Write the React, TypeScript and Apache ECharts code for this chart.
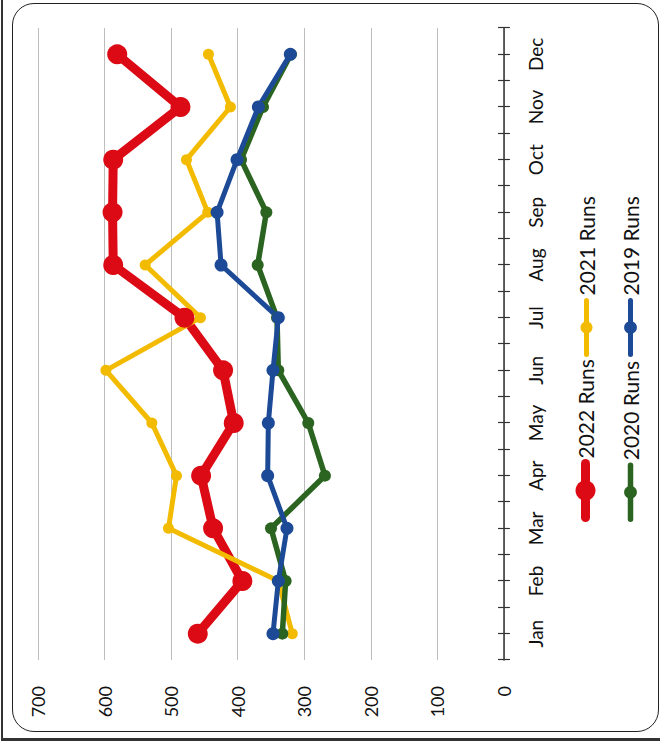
import React, { useEffect, useRef } from "react";
import * as echarts from "echarts";

const months = ["Jan", "Feb", "Mar", "Apr", "May", "Jun", "Jul", "Aug", "Sep", "Oct", "Nov", "Dec"];
const runs2022 = [460, 393, 437, 455, 406, 422, 480, 587, 588, 587, 486, 581];
const runs2021 = [318, 339, 504, 492, 529, 598, 456, 539, 445, 477, 411, 444];
const runs2020 = [333, 328, 350, 269, 294, 339, 341, 370, 357, 395, 362, 320];
const runs2019 = [347, 339, 326, 355, 354, 347, 339, 425, 431, 401, 369, 321];
const valueMin = 0;
const valueMax = 700;
const valueStep = 100;

const FONT = "Lato, 'Noto Sans', sans-serif";
const RED = "#dc0a14";
const YELLOW = "#f3bb00";
const GREEN = "#2a6420";
const BLUE = "#1c4a96";

export default function App() {
  const ref = useRef<HTMLDivElement>(null);
  useEffect(() => {
    if (!ref.current) return;
    const chart = echarts.init(ref.current, null, { renderer: "svg" });
    const legendText = { fontFamily: FONT, fontSize: 21, color: "#111" };
    const tickAxis = (inside: boolean) => ({
      type: "value",
      position: "bottom",
      min: 0,
      max: months.length * 2,
      interval: 1,
      axisLine: { show: false },
      axisLabel: { show: false },
      splitLine: { show: false },
      axisTick: { show: true, inside, length: 6, lineStyle: { color: "#333", width: 1.2 } },
    });
    const ls = (w: number) => ({ width: w, cap: "round", join: "round" });
    chart.setOption({
      animation: false,
      backgroundColor: "transparent",
      grid: { left: 84, right: 28, top: 38, bottom: 156, containLabel: false },
      legend: [
        { data: ["2022 Runs"], left: 217, top: 570, itemWidth: 54, itemHeight: 25, itemGap: 0, textStyle: legendText, lineStyle: ls(9) },
        { data: ["2021 Runs"], left: 382, top: 571, itemWidth: 54, itemHeight: 15, itemGap: 0, textStyle: legendText, lineStyle: ls(5) },
        { data: ["2020 Runs"], left: 217, top: 615, itemWidth: 54, itemHeight: 16, itemGap: 0, textStyle: legendText, lineStyle: ls(5.5) },
        { data: ["2019 Runs"], left: 382, top: 615, itemWidth: 54, itemHeight: 16, itemGap: 0, textStyle: legendText, lineStyle: ls(5) },
      ],
      xAxis: [
        {
          type: "category",
          data: months,
          boundaryGap: true,
          axisLine: { show: true, lineStyle: { color: "#333", width: 1.5 } },
          axisTick: { show: false },
          axisLabel: { margin: 22, fontFamily: FONT, fontSize: 19, color: "#111" },
          splitLine: { show: false },
        },
        tickAxis(true),
        tickAxis(false),
      ],
      yAxis: {
        type: "value",
        min: valueMin,
        max: valueMax,
        interval: valueStep,
        axisLine: { show: false },
        axisTick: { show: false },
        axisLabel: { margin: 26, fontFamily: FONT, fontSize: 18, color: "#111" },
        splitLine: { show: true, lineStyle: { color: "#bdbdbd", width: 1 } },
      },
      series: [
        {
          name: "2022 Runs",
          type: "line",
          data: runs2022,
          symbol: "circle",
          symbolSize: 20,
          lineStyle: { color: RED, ...ls(9) },
          itemStyle: { color: RED },
        },
        {
          name: "2021 Runs",
          type: "line",
          data: runs2021,
          symbol: "circle",
          symbolSize: 11,
          lineStyle: { color: YELLOW, ...ls(5) },
          itemStyle: { color: YELLOW },
        },
        {
          name: "2020 Runs",
          type: "line",
          data: runs2020,
          symbol: "circle",
          symbolSize: 12,
          lineStyle: { color: GREEN, ...ls(5.5) },
          itemStyle: { color: GREEN },
        },
        {
          name: "2019 Runs",
          type: "line",
          data: runs2019,
          symbol: "circle",
          symbolSize: 13,
          lineStyle: { color: BLUE, ...ls(5) },
          itemStyle: { color: BLUE },
        },
      ],
    });
    return () => chart.dispose();
  }, []);

  return (
    <div style={{ position: "fixed", left: 0, top: 0, width: 660, height: 744, background: "#fff", overflow: "hidden" }}>
      <div
        style={{
          position: "absolute",
          left: 1,
          top: 0,
          width: 657,
          height: 738,
          borderLeft: "2px solid #333",
          borderBottom: "3px solid #333",
        }}
      />
      <div
        style={{
          position: "absolute",
          left: 12,
          top: 3,
          width: 660 - 12 - 1,
          height: 732 - 3,
          boxSizing: "border-box",
          border: "1.5px solid #222",
          borderRadius: 22,
        }}
      />
      <div
        ref={ref}
        style={{
          position: "absolute",
          left: 0,
          top: 0,
          width: 744,
          height: 660,
          transformOrigin: "0 0",
          transform: "translate(0px, 744px) rotate(-90deg)",
        }}
      />
    </div>
  );
}
